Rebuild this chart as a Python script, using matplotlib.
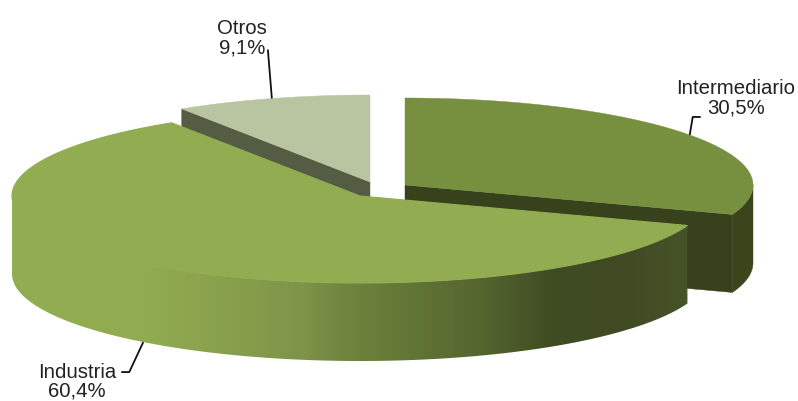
import numpy as np
import matplotlib
matplotlib.use("Agg")
import matplotlib.pyplot as plt
from matplotlib.colors import LinearSegmentedColormap
from matplotlib.patches import PathPatch, Polygon
from matplotlib.path import Path

plt.rcParams["font.family"] = ["Liberation Sans", "DejaVu Sans"]

# datos
categorias = ["Intermediario", "Industria", "Otros"]
valores = [30.5, 60.4, 9.1]
etiquetas = ["30,5%", "60,4%", "9,1%"]

# geometria del pastel en pixeles
A, B = 348, 87
PROF = 78
CENTROS = {"Intermediario": (405, 186), "Industria": (360, 197), "Otros": (370, 183)}

# el primer sector arranca a las 12 y va en sentido horario
grados = np.array(valores) / sum(valores) * 360
ang_inter = (90, 90 - grados[0])
ang_indus = (ang_inter[1], ang_inter[1] - grados[1])
ang_otros = (ang_indus[1], ang_indus[1] - grados[2])


def borde(centro, a0, a1, dy=0, n=150):
    t = np.radians(np.linspace(a0, a1, n))
    return np.column_stack([centro[0] + A * np.cos(t), centro[1] - B * np.sin(t) + dy])


def tapa(ax, centro, a0, a1, color):
    pts = np.vstack([centro, borde(centro, a0, a1)])
    ax.add_patch(Polygon(pts, closed=True, fc=color, ec=color, lw=0.3))


def pared_radial(ax, centro, a, color):
    fin = borde(centro, a, a, n=1)[0]
    pts = [centro, fin, (fin[0], fin[1] + PROF), (centro[0], centro[1] + PROF)]
    ax.add_patch(Polygon(pts, closed=True, fc=color, ec=color, lw=0.3))


def pared_curva(centro, a0, a1):
    return np.vstack([borde(centro, a0, a1), borde(centro, a1, a0, dy=PROF)])


fig = plt.figure(figsize=(7.98, 4.02), dpi=100)
ax = fig.add_axes([0, 0, 1, 1])

# Otros
c = CENTROS["Otros"]
pared_radial(ax, c, ang_otros[0], "#555c44")
tapa(ax, c, ang_otros[0], ang_otros[1], "#b8c5a0")

# Intermediario
c = CENTROS["Intermediario"]
pared_radial(ax, c, ang_inter[1], "#37411b")
ax.add_patch(Polygon(pared_curva(c, ang_inter[1], 0), closed=True, fc="#3a451b", ec="#3a451b", lw=0.3))
tapa(ax, c, ang_inter[0], ang_inter[1], "#76903f")

# Industria, la pared lleva degradado
c = CENTROS["Industria"]
pts = pared_curva(c, ang_indus[0], -180)
cod = [Path.MOVETO] + [Path.LINETO] * (len(pts) - 1)
clip = PathPatch(Path(pts, cod), fc="none", ec="none", transform=ax.transData)
ax.add_patch(clip)
degradado = LinearSegmentedColormap.from_list(
    "pared",
    [(0.0, "#92ad52"), (0.2, "#91ab50"), (0.28, "#8ba44d"), (0.43, "#7e9448"), (0.49, "#70853f"),
     (0.57, "#647936"), (0.69, "#566630"), (0.8, "#3f4c22"), (0.9, "#3f4a23"), (1.0, "#465228")],
)
img = ax.imshow(np.linspace(0, 1, 400).reshape(1, -1), cmap=degradado, aspect="auto",
                extent=[c[0] - A, 688, c[1] + B + PROF, c[1] - B], zorder=1.5)
img.set_clip_path(clip)
patch_top = np.vstack([c, borde(c, ang_indus[0], ang_indus[1])])
ax.add_patch(Polygon(patch_top, closed=True, fc="#92ac52", ec="#92ac52", lw=0.8, zorder=2))

# etiquetas: la guia sale del punto medio de cada sector
anclas = {
    "Intermediario": (sum(ang_inter) / 2, 0),
    "Industria": (sum(ang_indus) / 2, PROF),
    "Otros": (sum(ang_otros) / 2, 0),
}
guias = {
    "Intermediario": [(3, -18), (11, -18)],
    "Industria": [(-14, 30), (-22, 30)],
    "Otros": [(-4, -49)],
}
textos = {"Intermediario": (736, 98), "Industria": (77, 382), "Otros": (242, 38)}

for nombre, etiqueta in zip(categorias, etiquetas):
    ang, dy = anclas[nombre]
    x0, y0 = borde(CENTROS[nombre], ang, ang, dy=dy, n=1)[0]
    xs = [x0] + [x0 + d[0] for d in guias[nombre]]
    ys = [y0] + [y0 + d[1] for d in guias[nombre]]
    ax.plot(xs, ys, color="#111111", lw=1.3, zorder=3, solid_capstyle="butt")
    ax.text(textos[nombre][0], textos[nombre][1], nombre + "\n" + etiqueta, ha="center", va="center",
            fontsize=14.7, color="#222222", linespacing=1.0, zorder=4)

ax.set_xlim(0, 798)
ax.set_ylim(402, 0)
ax.axis("off")
fig.savefig("out.png", dpi=100, facecolor="white")
